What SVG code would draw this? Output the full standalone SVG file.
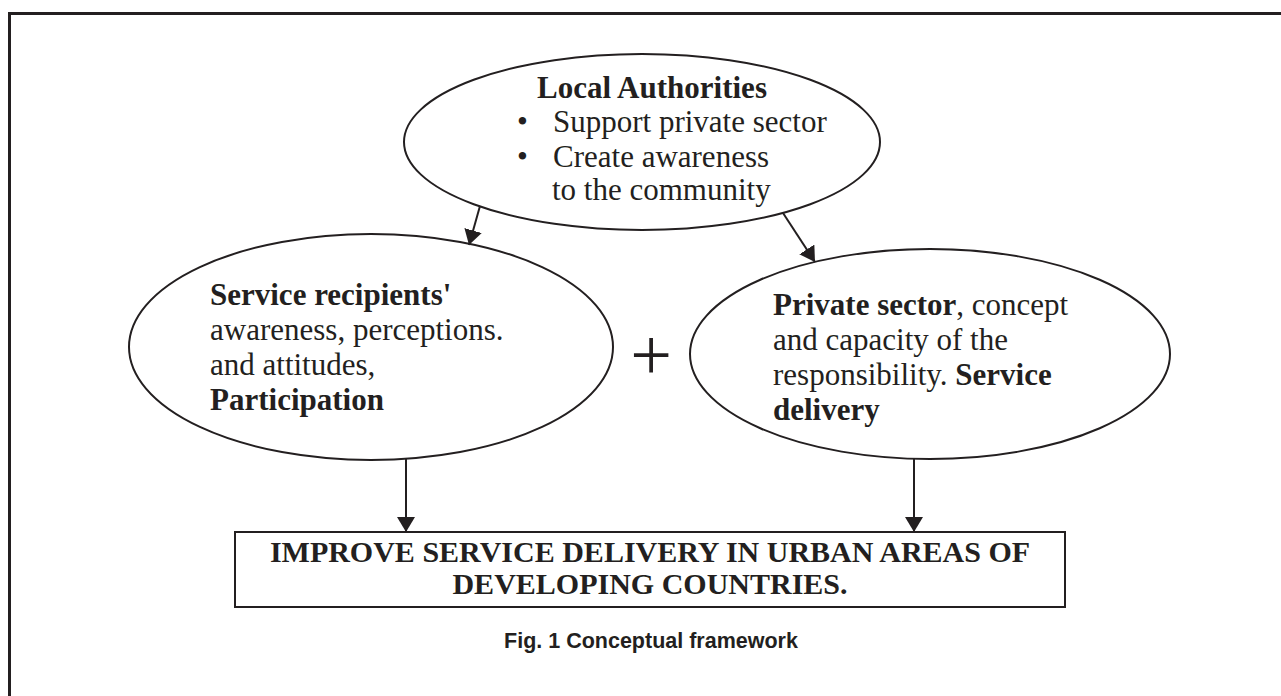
<svg xmlns="http://www.w3.org/2000/svg" width="1281" height="696" viewBox="0 0 1281 696">
<style>
.t{font-family:"Liberation Serif","Times New Roman",serif;font-size:31px;fill:#231f20}
.b{font-weight:bold}
.shape{fill:none;stroke:#231f20;stroke-width:2}
.conn{stroke:#231f20;stroke-width:2;fill:none}
.cap{font-family:"Liberation Sans",Arial,sans-serif;font-size:21.5px;font-weight:bold;fill:#231f20}
</style>
<defs>
<marker id="ah" viewBox="0 0 15 18" refX="15" refY="9" markerWidth="15" markerHeight="18" markerUnits="userSpaceOnUse" orient="auto">
<path d="M0,0 L15,9 L0,18 z" fill="#231f20"/>
</marker>
</defs>
<rect width="1281" height="696" fill="#ffffff"/>
<path d="M9.5,696 L9.5,13.5 L1281,13.5" fill="none" stroke="#231f20" stroke-width="3"/>

<g id="local-authorities">
<ellipse class="shape" cx="642" cy="142" rx="238" ry="88"/>
<text class="t b" x="652" y="98" text-anchor="middle">Local Authorities</text>
<text class="t" x="517" y="132">•</text>
<text class="t" x="553" y="132">Support private sector</text>
<text class="t" x="517" y="167">•</text>
<text class="t" x="553" y="167">Create awareness</text>
<text class="t" x="552" y="200">to the community</text>
</g>

<g id="service-recipients">
<ellipse class="shape" cx="371" cy="347" rx="242" ry="113"/>
<text class="t b" x="210" y="305">Service recipients'</text>
<text class="t" x="210" y="340">awareness, perceptions.</text>
<text class="t" x="210" y="375">and attitudes,</text>
<text class="t b" x="210" y="410">Participation</text>
</g>

<g id="plus">
<text class="t" x="651" y="380" text-anchor="middle" style="font-size:74px">+</text>
</g>

<g id="private-sector">
<ellipse class="shape" cx="930" cy="354" rx="240" ry="105"/>
<text class="t" x="773" y="315"><tspan class="b">Private sector</tspan>, concept</text>
<text class="t" x="773" y="350">and capacity of the</text>
<text class="t" x="773" y="385">responsibility. <tspan class="b">Service</tspan></text>
<text class="t b" x="773" y="420">delivery</text>
</g>

<g id="improve">
<rect class="shape" x="235" y="532" width="830" height="75"/>
<text class="t b" x="650" y="562" text-anchor="middle" style="font-size:30px">IMPROVE SERVICE DELIVERY IN URBAN AREAS OF</text>
<text class="t b" x="650" y="594" text-anchor="middle" style="font-size:30px">DEVELOPING COUNTRIES.</text>
</g>

<g id="connectors">
<line class="conn" x1="480" y1="206" x2="469" y2="245" marker-end="url(#ah)"/>
<line class="conn" x1="783" y1="213" x2="815" y2="262" marker-end="url(#ah)"/>
<line class="conn" x1="406" y1="459" x2="406" y2="532" marker-end="url(#ah)"/>
<line class="conn" x1="914" y1="459" x2="914" y2="532" marker-end="url(#ah)"/>
</g>

<g id="caption">
<text class="cap" x="651" y="648" text-anchor="middle">Fig. 1 Conceptual framework</text>
</g>
</svg>
